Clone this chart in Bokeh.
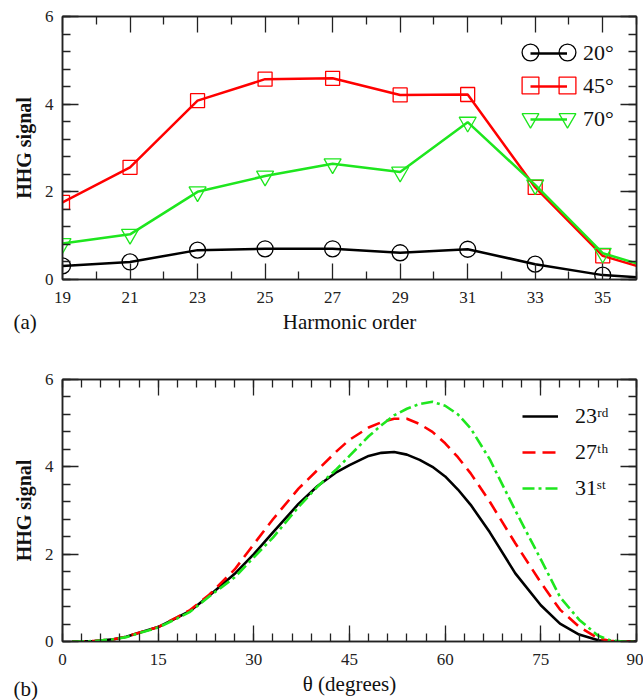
from bokeh.plotting import figure
from bokeh.layouts import column
from bokeh.models import (LinearAxis, Range1d, FixedTicker, SingleIntervalTicker,
                          Legend, LegendItem, Label, CustomJSTickFormatter)
from bokeh.embed import file_html
from bokeh.resources import INLINE

# ---------------- data: panel (a) ----------------
harmonic = [19, 21, 23, 25, 27, 29, 31, 33, 35, 37]
sig_20 = [0.31, 0.40, 0.67, 0.70, 0.70, 0.61, 0.69, 0.35, 0.10, 0.00]
sig_45 = [1.76, 2.56, 4.08, 4.57, 4.59, 4.21, 4.22, 2.10, 0.54, 0.08]
sig_70 = [0.82, 1.03, 2.00, 2.36, 2.64, 2.45, 3.59, 2.16, 0.60, 0.14]
harm_major_ticks = [19, 21, 23, 25, 27, 29, 31, 33, 35]
harm_minor_ticks = [20, 22, 24, 26, 28, 30, 32, 34, 36]
labels_a = ["20°", "45°", "70°"]

# ---------------- data: panel (b) ----------------
theta = [1.5, 5, 8, 10, 12, 15, 18, 20, 23, 27, 30, 33, 37, 40, 43, 45, 48, 50, 52,
         54, 56, 58, 60, 62, 64, 67, 71, 75, 78, 81, 84, 86, 88, 90]
h23 = [0.0, 0.01, 0.05, 0.11, 0.20, 0.33, 0.55, 0.70, 1.05, 1.55, 2.00, 2.50, 3.15,
       3.56, 3.88, 4.04, 4.25, 4.32, 4.34, 4.28, 4.16, 4.00, 3.78, 3.48, 3.13, 2.50,
       1.56, 0.83, 0.41, 0.16, 0.03, 0.0, 0.0, 0.0]
h27 = [0.0, 0.01, 0.05, 0.11, 0.20, 0.33, 0.56, 0.72, 1.07, 1.65, 2.23, 2.80, 3.50,
       3.93, 4.36, 4.62, 4.90, 5.02, 5.10, 5.10, 4.98, 4.80, 4.54, 4.22, 3.85, 3.20,
       2.25, 1.35, 0.73, 0.34, 0.07, 0.01, 0.0, 0.0]
h31 = [0.0, 0.01, 0.05, 0.10, 0.19, 0.32, 0.53, 0.68, 1.03, 1.47, 1.93, 2.38, 3.08,
       3.55, 3.95, 4.25, 4.70, 4.95, 5.18, 5.33, 5.44, 5.49, 5.40, 5.20, 4.88, 4.17,
       3.00, 1.88, 1.02, 0.50, 0.13, 0.02, 0.0, 0.0]
labels_b = ["23ʳᵈ", "27ᵗʰ", "31ˢᵗ"]

FONT = "Liberation Serif"
RED = "#ff0000"
GREEN = "#1ee61e"
BLACK = "#000000"


def blank_formatter():
    return CustomJSTickFormatter(code="return ''")


def style_axis(ax, ticker, label=None, bold=False, show_labels=True):
    ax.ticker = ticker
    ax.axis_line_color = "#222222"
    ax.axis_line_width = 1.5
    ax.major_tick_line_color = "#222222"
    ax.minor_tick_line_color = "#222222"
    ax.major_tick_line_width = 1.3
    ax.minor_tick_line_width = 1.3
    ax.major_tick_in = 16
    ax.major_tick_out = 0
    ax.minor_tick_in = 8
    ax.minor_tick_out = 0
    if show_labels:
        ax.major_label_text_font = FONT
        ax.major_label_text_font_size = "17px"
        ax.major_label_text_color = "#222222"
    else:
        ax.formatter = blank_formatter()
        ax.major_label_standoff = 0
        ax.major_label_text_font_size = "0px"
    if label is not None:
        ax.axis_label = label
        ax.axis_label_text_font = FONT
        ax.axis_label_text_font_size = "20px" if bold else "21px"
        ax.axis_label_text_font_style = "bold" if bold else "normal"
        ax.axis_label_text_color = "#111111"


def make_fig(width, height, x_range, border_top, border_bottom):
    p = figure(width=width, height=height, output_backend="svg", toolbar_location=None,
               x_range=x_range, y_range=Range1d(0, 6),
               min_border_left=62, min_border_right=7,
               min_border_top=border_top, min_border_bottom=border_bottom)
    p.xgrid.visible = False
    p.ygrid.visible = False
    p.outline_line_color = "#222222"
    p.outline_line_width = 1.5
    p.background_fill_color = "white"
    p.border_fill_color = "white"
    return p


def plain_legend(items, location, **kw):
    opts = dict(padding=0, margin=0, border_line_color=None, background_fill_alpha=0,
                label_text_font=FONT, label_text_color="#111111")
    opts.update(kw)
    return Legend(items=items, location=location, **opts)


# ================= panel (a) =================
pa = make_fig(643, 360, Range1d(19, 36), 16, 80)
xt_a = FixedTicker(ticks=harm_major_ticks, minor_ticks=harm_minor_ticks)
style_axis(pa.xaxis[0], xt_a, "Harmonic order")
pa.xaxis[0].major_label_standoff = 12
pa.xaxis[0].axis_label_standoff = 4
style_axis(pa.yaxis[0], SingleIntervalTicker(interval=2, num_minor_ticks=5), "HHG signal", bold=True)
pa.yaxis[0].major_label_standoff = 9
pa.yaxis[0].axis_label_standoff = 7
top_a = LinearAxis()
style_axis(top_a, FixedTicker(ticks=harm_major_ticks, minor_ticks=harm_minor_ticks), show_labels=False)
pa.add_layout(top_a, "above")
right_a = LinearAxis()
style_axis(right_a, SingleIntervalTicker(interval=2, num_minor_ticks=5), show_labels=False)
pa.add_layout(right_a, "right")

l20 = pa.line(harmonic, sig_20, line_color=BLACK, line_width=2.5)
s20 = pa.scatter(harmonic, sig_20, marker="circle", size=16, fill_color=None,
                 line_color=BLACK, line_width=1.3)
l45 = pa.line(harmonic, sig_45, line_color=RED, line_width=2.5)
s45 = pa.scatter(harmonic, sig_45, marker="square", size=14, fill_color=None,
                 line_color=RED, line_width=1.3)
l70 = pa.line(harmonic, sig_70, line_color=GREEN, line_width=2.5)
s70 = pa.scatter(harmonic, sig_70, marker="inverted_triangle", size=17, fill_color=None,
                 line_color=GREEN, line_width=1.3)

# legend: line + label, and a marker at each end of the line sample
leg_a = plain_legend([LegendItem(label=labels_a[0], renderers=[l20]),
                      LegendItem(label=labels_a[1], renderers=[l45]),
                      LegendItem(label=labels_a[2], renderers=[l70])],
                     (468, 147), glyph_width=37, glyph_height=24, spacing=7,
                     label_standoff=16, label_text_font_size="22px")
pa.add_layout(leg_a)
for renderer, ly in ((s20, 206), (s45, 173), (s70, 140)):
    for lx in (447, 484):
        pa.add_layout(plain_legend([LegendItem(label=" ", renderers=[renderer])],
                                   (lx, ly), glyph_width=42, glyph_height=42, spacing=0,
                                   label_standoff=0, label_text_font_size="0px"))
pa.add_layout(Label(x=-49, y=39, x_units="screen", y_units="screen", text="(a)",
                    text_font=FONT, text_font_size="21px", text_baseline="middle",
                    text_color="#111111"), "below")

# ================= panel (b) =================
pb = make_fig(643, 347, Range1d(0, 90), 26, 59)
pb.margin = (-7, 0, 0, 0)
style_axis(pb.xaxis[0], SingleIntervalTicker(interval=15, num_minor_ticks=5), "θ (degrees)")
pb.xaxis[0].major_label_standoff = 12
pb.xaxis[0].axis_label_standoff = 4
style_axis(pb.yaxis[0], SingleIntervalTicker(interval=2, num_minor_ticks=5), "HHG signal", bold=True)
pb.yaxis[0].major_label_standoff = 9
pb.yaxis[0].axis_label_standoff = 7
top_b = LinearAxis()
style_axis(top_b, SingleIntervalTicker(interval=15, num_minor_ticks=5), show_labels=False)
pb.add_layout(top_b, "above")
right_b = LinearAxis()
style_axis(right_b, SingleIntervalTicker(interval=2, num_minor_ticks=5), show_labels=False)
pb.add_layout(right_b, "right")

b23 = pb.line(theta, h23, line_color=BLACK, line_width=2.6)
b27 = pb.line(theta, h27, line_color=RED, line_width=2.6, line_dash="13 7")
b31 = pb.line(theta, h31, line_color=GREEN, line_width=2.6, line_dash="12 4 3 4")

leg_b = plain_legend([LegendItem(label=labels_b[0], renderers=[b23]),
                      LegendItem(label=labels_b[1], renderers=[b27]),
                      LegendItem(label=labels_b[2], renderers=[b31])],
                     (460, 140), glyph_width=36, glyph_height=24, spacing=10,
                     label_standoff=17, label_text_font_size="22px")
pb.add_layout(leg_b)
pb.add_layout(Label(x=-49, y=-309, x_units="screen", y_units="screen", text="(b)",
                    text_font=FONT, text_font_size="21px", text_baseline="middle",
                    text_color="#111111"), "above")

layout = column(pa, pb, spacing=0)
open("out.html", "w").write(file_html(layout, INLINE))
